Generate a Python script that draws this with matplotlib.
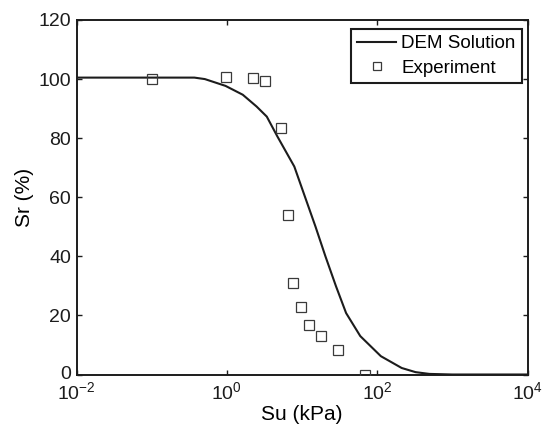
import matplotlib
matplotlib.use("Agg")
import matplotlib.pyplot as plt
from matplotlib.ticker import NullLocator, FixedLocator

plt.rcParams['font.family'] = ['Liberation Sans', 'DejaVu Sans']
plt.rcParams['axes.unicode_minus'] = False

# DEM solution curve
dem_su = [0.01, 0.1, 0.37, 0.51, 0.96, 1.63, 2.49, 3.4, 4.7, 7.9, 10.9, 15.1,
          20.5, 28.3, 38.6, 59.6, 112, 212, 324, 494, 1000, 10000]
dem_sr = [100.5, 100.5, 100.5, 100.0, 97.7, 94.7, 90.7, 87.3, 80.6, 70.4, 60.3,
          50.1, 40.0, 29.9, 20.8, 13.0, 6.2, 2.2, 0.8, 0.2, 0.0, 0.0]

# Experiment points
exp_su = [0.1, 0.96, 2.2, 3.2, 5.2, 6.5, 7.6, 9.75, 12.4, 18, 29.9, 69.8]
exp_sr = [100.0, 100.6, 100.5, 99.5, 83.6, 53.9, 31.0, 22.8, 16.6, 13.0, 8.2, 0.0]

W, H = 542, 426
L, R, T, B = 76.5, 527.5, 20, 374.5
fig = plt.figure(figsize=(W/100, H/100), dpi=100)
ax = fig.add_axes([L/W, 1 - B/H, (R-L)/W, (B-T)/H])

ax.plot(dem_su, dem_sr, color='#1c1c1c', lw=1.5, label='DEM Solution', zorder=3)
ax.plot(exp_su, exp_sr, linestyle='none', marker='s', markersize=7.2,
        markerfacecolor='none', markeredgecolor='#3a3a3a', markeredgewidth=0.9,
        label='Experiment', zorder=4)

ax.set_xscale('log')
ax.set_xlim(1e-2, 1e4)
ax.set_ylim(0, 120)
ax.xaxis.set_major_locator(FixedLocator([1e-2, 1e0, 1e2, 1e4]))
ax.xaxis.set_minor_locator(NullLocator())
ax.set_yticks([0, 20, 40, 60, 80, 100, 120])

ax.tick_params(which='both', direction='in', top=True, right=True,
               labelsize=14, length=3.5, width=1.0, colors='#1c1c1c')
ax.tick_params(axis='y', pad=4)
ax.tick_params(axis='x', pad=5)
for s in ax.spines.values():
    s.set_linewidth(1.4)
    s.set_color('#1c1c1c')
ax.get_yticklabels()[0].set_verticalalignment('center')

ax.set_xlabel('Su (kPa)', fontsize=15, labelpad=1)
ax.set_ylabel('Sr (%)', fontsize=15, labelpad=3)

leg = ax.legend(loc='upper right', bbox_to_anchor=((521.7-L)/(R-L), (B-29)/(B-T)),
                borderaxespad=0, fontsize=13.5, frameon=True, fancybox=False,
                edgecolor='#1c1c1c', framealpha=1, handlelength=2.08,
                handletextpad=0.27, borderpad=0.32, labelspacing=0.4,
                markerscale=0.75)
leg.get_frame().set_linewidth(1.5)

fig.savefig('out.png', dpi=100)
